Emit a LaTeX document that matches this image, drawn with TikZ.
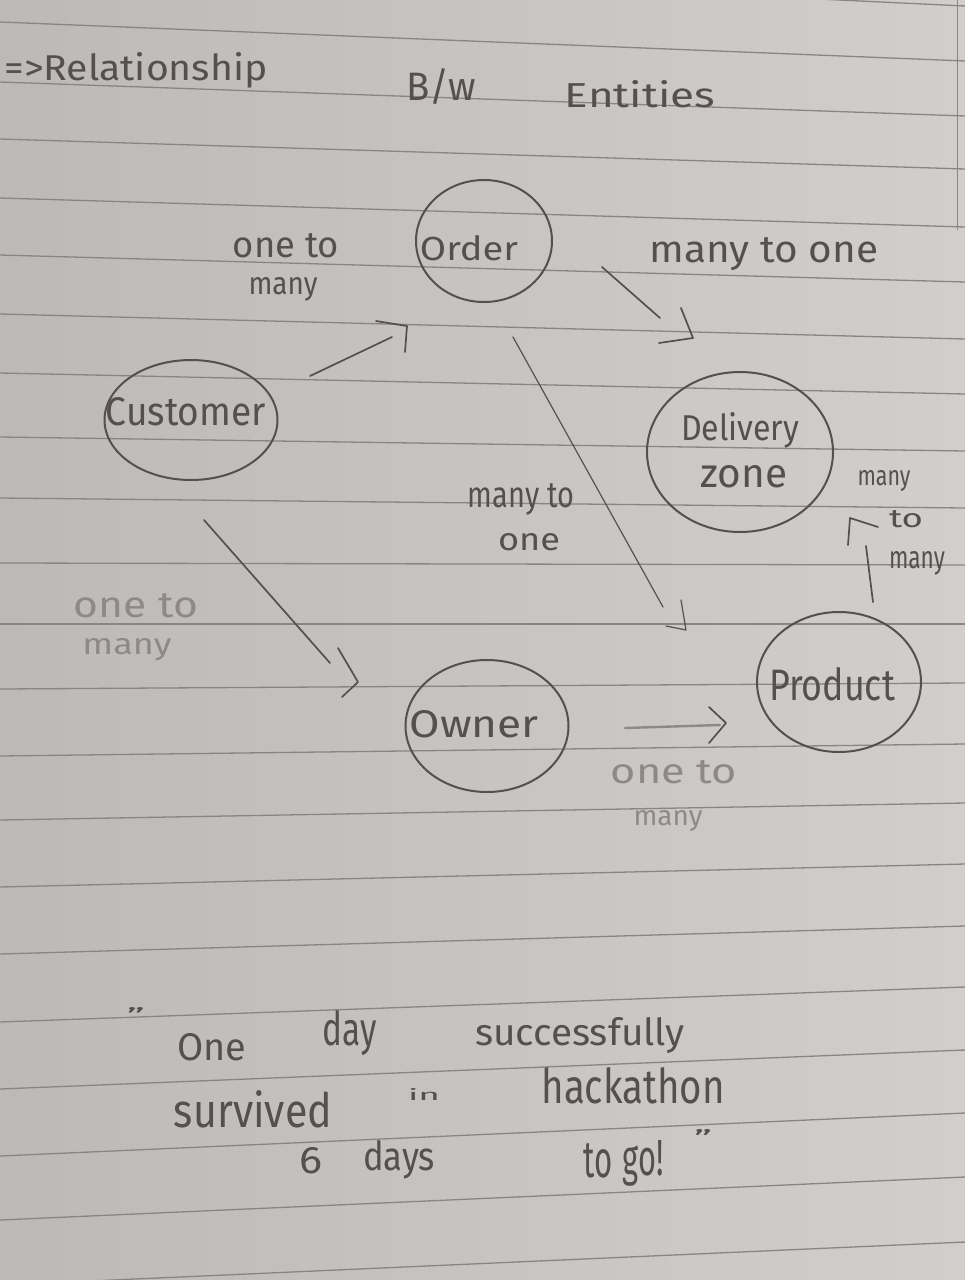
\documentclass[tikz,border=0pt]{standalone}
\usepackage{fontspec}
\setmainfont{Fira Sans}
\usetikzlibrary{shapes.geometric}
\definecolor{paperL}{HTML}{BDB9B6}
\definecolor{paperR}{HTML}{D1CECB}
\definecolor{rulec}{HTML}{8A8582}
\definecolor{pencil}{HTML}{55504D}
\definecolor{faint}{HTML}{8E8986}
\newcommand{\hw}[3]{\resizebox{#1pt}{#2pt}{#3}}
\begin{document}
\begin{tikzpicture}[x=1pt,y=-1pt,
  entity/.style 2 args={ellipse, draw=pencil, line width=2pt, minimum width=#1, minimum height=#2, inner sep=0pt},
  hand/.style={inner sep=0pt, anchor=base, text=pencil},
  fainthand/.style={inner sep=0pt, anchor=base, text=faint},
  quotemark/.style={inner sep=0pt, anchor=center, text=pencil},
  conn/.style={draw=pencil, line width=1.7pt, line cap=round, line join=round},
  ruleline/.style={draw=rulec, line width=1.3pt}]
\useasboundingbox (0,0) rectangle (965,1280);
\shade[left color=paperL, right color=paperR] (0,0) rectangle (965,1280);
% ruled lines
\foreach \l/\r in {-40/6, 22/61, 82/116, 139/169, 198/227, 255/282, 314/339, 373/394, 437/451, 498/508, 563/565, 624/624, 689/683, 756/744, 820/803, 887/864, 954/926, 1022/987, 1089/1050, 1156/1113, 1220/1177, 1285/1242}
  \draw[ruleline] (0,\l) -- (965,\r);
\draw[draw=rulec, line width=1pt] (957,0) -- (957,230);
% header
\node[hand] (title) at (136,80) {\hw{263}{28}{=>Relationship}};
\node[hand] (bw) at (441,100) {\hw{70}{32}{B/w}};
\node[hand] (ent) at (640,107) {\hw{150}{27}{Entities}};
% entities
\node[entity={136}{122}] (order) at (484,241) {};
\node[hand] (orderT) at (469,260) {\hw{98}{25}{Order}};
\node[entity={173}{120}] (customer) at (191,420) {};
\node[hand] (customerT) at (186,425) {\hw{160}{28}{Customer}};
\node[entity={186}{160}] (delivery) at (740,452) {};
\node[hand] (deliveryT) at (740,440) {\hw{118}{28}{Delivery}};
\node[hand] (zoneT) at (744,487) {\hw{87}{22}{zone}};
\node[entity={163}{132}] (owner) at (487,726) {};
\node[hand] (ownerT) at (474,737) {\hw{129}{27}{Owner}};
\node[entity={164}{140}] (product) at (839,682) {};
\node[hand] (productT) at (832,700) {\hw{126}{33}{Product}};
% connector 1: customer -> order
\coordinate (c1a) at (310,376); \coordinate (c1b) at (392,337);
\draw[conn] (c1a) -- (c1b);
\draw[conn] (c1b) ++(-16,-16) -- ++(31,5) -- ++(-2,26);
\node[hand] (l1a) at (286,257) {\hw{106}{24}{one to}};
\node[hand] (l1b) at (283,294) {\hw{69}{17}{many}};
% connector 2: order -> delivery
\coordinate (c2a) at (602,267); \coordinate (c2b) at (660,318);
\draw[conn] (c2a) -- (c2b);
\draw[conn] (c2b) ++(21,-10) -- ++(12,30) -- ++(-34,5);
\node[hand] (l2) at (764,262) {\hw{229}{25}{many to one}};
% connector 3: order -> product
\coordinate (c3a) at (513,337); \coordinate (c3b) at (663,607);
\draw[conn, line width=1.2pt] (c3a) -- (c3b);
\draw[conn, line width=1.2pt] (c3b) ++(18,-7) -- ++(5,30) -- ++(-20,-4);
\node[hand] (l3a) at (521,507) {\hw{106}{24}{many to}};
\node[hand] (l3b) at (529,550) {\hw{62}{17}{one}};
% connector 4: customer -> owner
\coordinate (c4a) at (204,520); \coordinate (c4b) at (330,663);
\draw[conn] (c4a) -- (c4b);
\draw[conn] (c4b) ++(8,-15) -- ++(20,34) -- ++(-16,15);
\node[fainthand] (l4a) at (136,617) {\hw{124}{24}{one to}};
\node[fainthand] (l4b) at (127,654) {\hw{89}{16}{many}};
% connector 5: owner -> product
\coordinate (c5a) at (625,728); \coordinate (c5b) at (720,725);
\draw[conn, line width=2.4pt, draw=faint] (c5a) -- (c5b);
\draw[conn] (c5b) ++(-11,-18) -- ++(17,16) -- ++(-17,20);
\node[fainthand] (l5a) at (674,783) {\hw{126}{23}{one to}};
\node[fainthand] (l5b) at (668,825) {\hw{69}{15}{many}};
% connector 6: product -> delivery
\coordinate (c6a) at (873,602); \coordinate (c6b) at (866,546);
\draw[conn] (c6a) -- (c6b);
\draw[conn] (c6b) ++(-18,-1) -- ++(2,-27) -- ++(28,9);
\node[hand] (l6a) at (884,485) {\hw{53}{15}{many}};
\node[hand] (l6b) at (906,527) {\hw{34}{17}{to}};
\node[hand] (l6c) at (917,568) {\hw{56}{17}{many}};
% quote
\node[quotemark] (q0) at (136,1015) {\hw{18}{16}{”}};
\node[hand] (q1) at (212,1060) {\hw{69}{27}{One}};
\node[hand] (q2) at (350,1045) {\hw{54}{35}{day}};
\node[hand] (q3) at (580,1045) {\hw{210}{28}{successfully}};
\node[hand] (q4) at (253,1127) {\hw{158}{37}{survived}};
\node[hand] (q5) at (424,1100) {\hw{32}{12}{in}};
\node[hand] (q6) at (633,1103) {\hw{183}{36}{hackathon}};
\node[hand] (q7) at (311,1173) {\hw{23}{26}{6}};
\node[hand] (q8) at (399,1170) {\hw{72}{30}{days}};
\node[hand] (q9) at (598,1177) {\hw{29}{34}{to}};
\node[hand] (q10) at (643,1175) {\hw{41}{35}{go!}};
\node[quotemark] (q11) at (703,1138) {\hw{18}{17}{”}};
\end{tikzpicture}
\end{document}
